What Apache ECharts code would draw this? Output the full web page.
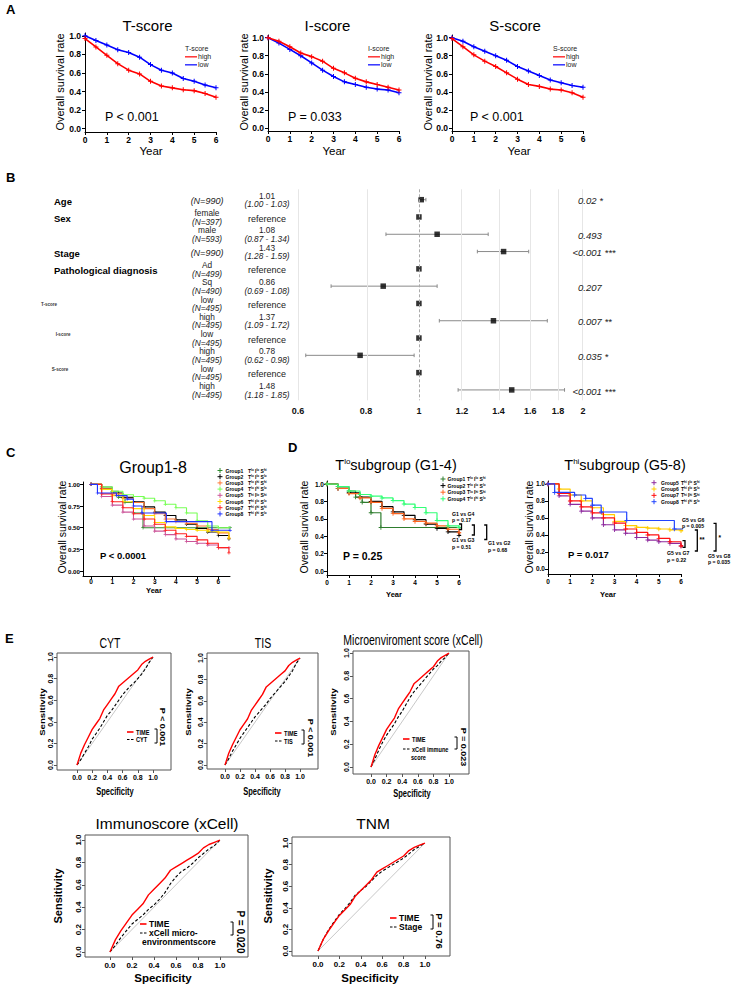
<!DOCTYPE html>
<html><head><meta charset="utf-8">
<script src="https://cdn.jsdelivr.net/npm/echarts@6.0.0/dist/echarts.min.js"></script>
<style>html,body{margin:0;padding:0;background:#fff;}#chart{width:736px;height:985px;}</style>
</head><body><div id="chart"></div>
<script>
// ================= DATA =================
// Panel A : Kaplan-Meier (years vs overall survival)
const kmYears    = [0,0.5,1,1.5,2,2.5,3,3.5,4,4.5,5,5.5,6];
const tScoreHigh = [0.97,0.88,0.79,0.70,0.63,0.59,0.51,0.46,0.44,0.42,0.41,0.38,0.34];
const tScoreLow  = [1.00,0.95,0.90,0.85,0.82,0.77,0.69,0.63,0.60,0.54,0.51,0.47,0.44];
const iScoreHigh = [1.00,0.96,0.90,0.83,0.79,0.74,0.66,0.61,0.55,0.51,0.48,0.45,0.42];
const iScoreLow  = [1.00,0.94,0.87,0.80,0.72,0.64,0.57,0.51,0.48,0.45,0.43,0.42,0.39];
const sScoreHigh = [0.99,0.90,0.81,0.74,0.68,0.61,0.54,0.48,0.46,0.43,0.42,0.39,0.34];
const sScoreLow  = [1.00,0.96,0.90,0.85,0.80,0.75,0.68,0.63,0.58,0.53,0.50,0.47,0.45];
const yearTicks  = [0,1,2,3,4,5,6];
const survTicksA = [0,0.2,0.4,0.6,0.8,1.0];

// Panel B : forest plot
const forestHR   = [1.01,1,1.08,1.43,1,0.86,1,1.37,1,0.78,1,1.48];
const forestLow  = [1.00,null,0.87,1.28,null,0.69,null,1.09,null,0.62,null,1.18];
const forestHigh = [1.03,null,1.34,1.59,null,1.08,null,1.72,null,0.98,null,1.85];
const forestVars = ['Age','Sex','','Stage','Pathological diagnosis','','','','','','',''];
const forestLevels = ['','female','male','','Ad','Sq','low','high','low','high','low','high'];
const forestN    = ['(N=990)','(N=397)','(N=593)','(N=990)','(N=499)','(N=490)','(N=495)','(N=495)','(N=495)','(N=495)','(N=495)','(N=495)'];
const forestEst  = ['1.01','reference','1.08','1.43','reference','0.86','reference','1.37','reference','0.78','reference','1.48'];
const forestCI   = ['(1.00 - 1.03)','','(0.87 - 1.34)','(1.28 - 1.59)','','(0.69 - 1.08)','','(1.09 - 1.72)','','(0.62 - 0.98)','','(1.18 - 1.85)'];
const forestP    = ['0.02 *','','0.493','<0.001 ***','','0.207','','0.007 **','','0.035 *','','<0.001 ***'];
const forestScoreLabels = ['T-score','I-score','S-score'];
const forestTicks = [0.6,0.8,1,1.2,1.4,1.6,1.8,2];

// Panels C & D : eight groups (step KM curves, [year, survival])
const group1 = [[0,1],[0.5,0.97],[1,0.92],[1.3,0.85],[1.6,0.79],[2,0.67],[2.45,0.5],[6.55,0.5]];
const group2 = [[0,1],[0.5,0.95],[1,0.9],[1.5,0.85],[2,0.8],[2.5,0.74],[3,0.68],[3.5,0.64],[4,0.59],[4.5,0.54],[5,0.49],[5.5,0.45],[6,0.41],[6.5,0.37]];
const group3 = [[0,1],[0.5,0.95],[1,0.89],[1.5,0.84],[2,0.79],[2.5,0.72],[3,0.66],[3.5,0.6],[4,0.57],[4.5,0.55],[5,0.52],[5.5,0.48],[6,0.44],[6.5,0.38]];
const group4 = [[0,1],[0.5,0.97],[1,0.92],[1.5,0.88],[2,0.86],[2.5,0.84],[3,0.81],[3.5,0.77],[4,0.73],[4.5,0.67],[5,0.58],[5.5,0.52],[6,0.5],[6.5,0.5]];
const group5 = [[0,1],[0.5,0.86],[1,0.76],[1.5,0.68],[2,0.6],[2.5,0.52],[3,0.46],[3.5,0.42],[4,0.37],[4.5,0.34],[5,0.32],[5.5,0.3],[6,0.27],[6.5,0.27]];
const group6 = [[0,1],[0.5,0.94],[1,0.87],[1.5,0.8],[2,0.72],[2.5,0.64],[3,0.56],[3.5,0.51],[4,0.49],[4.5,0.48],[5,0.47],[5.5,0.46],[6,0.45],[6.5,0.38]];
const group7 = [[0,1],[0.5,0.89],[1,0.8],[1.5,0.73],[2,0.66],[2.5,0.6],[3,0.54],[3.5,0.47],[4,0.43],[4.5,0.4],[5,0.36],[5.5,0.32],[6,0.27],[6.5,0.21]];
const group8 = [[0,1],[0.3,0.9],[1.2,0.87],[1.7,0.83],[2,0.75],[2.4,0.67],[3.55,0.57],[5.7,0.47],[6.55,0.47]];
const groupNames = ['Group1','Group2','Group3','Group4','Group5','Group6','Group7','Group8'];
const groupT = ['lo','lo','lo','lo','hi','hi','hi','hi'];
const groupI = ['lo','lo','hi','hi','lo','lo','hi','hi'];
const groupS = ['hi','lo','hi','lo','hi','lo','hi','lo'];
const survTicksC = [0,0.25,0.5,0.75,1];
const survTicksD = [0,0.2,0.4,0.6,0.8,1];

// Panel E : ROC curves
const rocX     = [0,0.05,0.1,0.15,0.2,0.25,0.3,0.35,0.4,0.45,0.5,0.55,0.6,0.65,0.7,0.75,0.8,0.85,0.9,0.95,1];
const rocTIME  = [0,0.11,0.19,0.26,0.33,0.38,0.43,0.51,0.56,0.61,0.66,0.73,0.76,0.79,0.82,0.85,0.88,0.93,0.96,0.98,1];
const rocCYT   = [0,0.05,0.11,0.17,0.24,0.29,0.34,0.40,0.46,0.50,0.55,0.60,0.65,0.69,0.73,0.76,0.80,0.84,0.89,0.95,1];
const rocTIS   = [0,0.06,0.13,0.19,0.25,0.30,0.35,0.40,0.45,0.49,0.53,0.57,0.62,0.66,0.70,0.74,0.78,0.83,0.88,0.95,1];
const rocImmune= [0,0.07,0.15,0.22,0.28,0.33,0.38,0.44,0.49,0.55,0.61,0.66,0.70,0.74,0.78,0.82,0.86,0.89,0.93,0.96,1];
const rocMicro = [0,0.06,0.13,0.19,0.25,0.29,0.33,0.38,0.42,0.47,0.53,0.61,0.67,0.72,0.75,0.79,0.84,0.88,0.92,0.95,1];
const rocStage = [0,0.11,0.20,0.27,0.34,0.39,0.45,0.52,0.56,0.60,0.65,0.70,0.74,0.77,0.80,0.83,0.86,0.90,0.94,0.97,1];
const rocDiag  = [0,1];
const rocTicks = [0,0.2,0.4,0.6,0.8,1];

// ================= BUILD =================
const FONT = '"Liberation Sans", Arial, Helvetica, sans-serif';
const f = (w, s) => w + ' ' + s + 'px ' + FONT;
const PLUS = 'path://M4,0H6V4H10V6H6V10H4V6H0V4H4Z';
const chart = echarts.init(document.getElementById('chart'), null, {renderer:'svg', width:736, height:985});
const grids=[], xAxes=[], yAxes=[], series=[], G=[];

function addGrid(box, xa, ya){ const i=grids.length; grids.push(Object.assign({show:false, containLabel:false}, box)); xa.gridIndex=i; ya.gridIndex=i; xAxes.push(xa); yAxes.push(ya); return i; }
function vAxis(min,max,ticks,fmt,fs,o){ o=o||{}; return {
  type:'value', min:min, max:max,
  axisLine:{show:o.line!==false,onZero:false,lineStyle:{color:'#000',width:1}},
  axisTick:{show:o.tick!==false,inside:false,length:o.tlen||3,customValues:ticks,lineStyle:{color:o.tcolor||'#000',width:1}},
  axisLabel:{show:true,customValues:ticks,formatter:fmt,color:'#000',fontWeight:'bold',fontSize:fs,fontFamily:FONT,margin:(o.margin==null?3:o.margin),rotate:o.rotate||0,showMinLabel:true,showMaxLabel:true},
  splitLine:{show:false}, splitArea:{show:false}
};}
function txt(x,y,text,font,o){ o=o||{}; const al=o.align||'left';
  G.push({type:'text', x:x, y:y, rotation:o.rot||0, scaleX:o.sx||1, scaleY:o.sy||1, silent:true, z:50,
    style:{text:text, font:font, fill:o.color||'#000', align:al, textAlign:al, verticalAlign:'middle', textVerticalAlign:'middle', rich:o.rich}});
}
function pl(points,color,w,dash){ G.push({type:'polyline', silent:true, z:50, shape:{points:points}, style:{stroke:color, lineWidth:w, fill:'none', lineDash:dash||null}}); }
function plus(x,y,color){ pl([[x-2.5,y],[x+2.5,y]],color,1); pl([[x,y-2.5],[x,y+2.5]],color,1); }
function bracket(x,y1,y2,w){ pl([[x-2.5,y1],[x,y1],[x,y2],[x-2.5,y2]],'#000',w||1.3); }
function kmLine(gi, data, color, o){ o=o||{};
  series.push({type:'line', xAxisIndex:gi, yAxisIndex:gi, data:data, step:o.step||false,
    symbol:PLUS, symbolSize:o.sym||5, showSymbol:true, showAllSymbol:true, clip:true,
    lineStyle:{color:color,width:o.w||1.5}, itemStyle:{color:color,borderWidth:0}, silent:true, z:o.z||2});
}
const yFmt1 = v => v.toFixed(1), yFmt2 = v => v.toFixed(2), xFmt = v => String(v);

// ---------- Panel A ----------
txt(6,9,'A',f('bold',13));
const panelA = [
  {left:85, top:33, height:99, high:tScoreHigh, low:tScoreLow, title:'T-score', tx:147.5, ylx:60, yearx:151, px:105, ptxt:'P < 0.001', lx:185},
  {left:268, top:35, height:96, high:iScoreHigh, low:iScoreLow, title:'I-score', tx:327.5, ylx:244, yearx:334, px:288, ptxt:'P = 0.033', lx:368},
  {left:452, top:35, height:96, high:sScoreHigh, low:sScoreLow, title:'S-score', tx:515, ylx:428, yearx:519, px:470, ptxt:'P < 0.001', lx:553}
];
panelA.forEach(p=>{
  const gi = addGrid({left:p.left, top:p.top, width:131, height:p.height},
    vAxis(0,6,yearTicks,xFmt,8.5,{margin:3}), vAxis(-0.035,1.03,survTicksA,yFmt1,8.5,{margin:4}));
  kmLine(gi, kmYears.map((t,i)=>[t,p.low[i]]), '#0000FF', {w:1.6});
  kmLine(gi, kmYears.map((t,i)=>[t,p.high[i]]), '#FF0000', {w:1.6, z:3});
  txt(p.tx,25.5,p.title,f('normal',15),{align:'center'});
  txt(p.ylx,82,'Overall survival rate',f('normal',11),{align:'center',rot:Math.PI/2});
  txt(p.yearx,150.5,'Year',f('normal',11.5),{align:'center'});
  txt(p.px,117,p.ptxt,f('normal',12.5));
  txt(p.lx,48,p.title,f('normal',7),{color:'#222'});
  pl([[p.lx,56.8],[p.lx+12,56.8]],'#FF3333',1.5); txt(p.lx+13,56.8,'high',f('normal',7),{color:'#222'});
  pl([[p.lx,64.8],[p.lx+12,64.8]],'#3333FF',1.5); txt(p.lx+13,64.8,'low',f('normal',7),{color:'#222'});
});

// ---------- Panel B ----------
txt(6,177,'B',f('bold',13));
const fRow = i => 199.7 + i*17.3;
const fgi = addGrid({left:298, top:189.3, width:285, height:211},
  {type:'value', min:Math.log(0.6), max:Math.log(2),
   axisLine:{show:false}, axisTick:{show:false}, splitLine:{show:false},
   axisLabel:{customValues:forestTicks.map(Math.log), formatter:v=>String(+Math.exp(v).toFixed(1)), fontWeight:'bold', fontSize:9, fontFamily:FONT, color:'#111', margin:6, showMinLabel:true, showMaxLabel:true}},
  {type:'value', min:-0.6, max:11.6, inverse:true, show:false});
series.push({type:'scatter', xAxisIndex:fgi, yAxisIndex:fgi, data:[], silent:true, z:1,
  markLine:{silent:true, symbol:'none', label:{show:false}, animation:false,
    data:forestTicks.map(t=>({xAxis:Math.log(t), lineStyle: t===1 ? {color:'#aaaaaa',type:[3,2],width:1} : {color:'#e6e6e6',type:'solid',width:1}}))}});
series.push({type:'custom', xAxisIndex:fgi, yAxisIndex:fgi, silent:true, z:2,
  data: forestHR.map((v,i)=>forestLow[i]==null?null:[Math.log(forestLow[i]),Math.log(forestHigh[i]),i]).filter(d=>d),
  renderItem:(params,api)=>{
    const a=api.coord([api.value(0),api.value(2)]), b=api.coord([api.value(1),api.value(2)]);
    const st={stroke:'#8a8a8a',lineWidth:1};
    return {type:'group',children:[
      {type:'line',shape:{x1:a[0],y1:a[1],x2:b[0],y2:b[1]},style:st},
      {type:'line',shape:{x1:a[0],y1:a[1]-1.8,x2:a[0],y2:a[1]+1.8},style:st},
      {type:'line',shape:{x1:b[0],y1:b[1]-1.8,x2:b[0],y2:b[1]+1.8},style:st}]};
  }});
series.push({type:'scatter', xAxisIndex:fgi, yAxisIndex:fgi, silent:true, z:3,
  data: forestHR.map((v,i)=>[Math.log(v),i]), symbol:'rect', symbolSize:5.5, itemStyle:{color:'#000'}});
forestVars.forEach((v,i)=>{ if(v) txt(54,fRow(i)+1.5,v,f('bold',9.5)); });
[[49,304.5],[63,334.5],[60,369]].forEach((p,k)=>txt(p[0],p[1],forestScoreLabels[k],f('bold',4.5),{align:'center',color:'#333'}));
const tfs = 8.3;
forestN.forEach((n,i)=>{
  if(forestLevels[i]){ txt(207,fRow(i)-4,forestLevels[i],f('normal',tfs),{align:'center',color:'#222'}); txt(207,fRow(i)+4.6,n,f('italic',tfs),{align:'center',color:'#222'}); }
  else txt(207,fRow(i)+1.5,n,f('italic',tfs+0.7),{align:'center',color:'#222'});
});
forestEst.forEach((e,i)=>{
  if(forestCI[i]){ txt(267,fRow(i)-4,e,f('normal',tfs),{align:'center',color:'#222'}); txt(267,fRow(i)+4.6,forestCI[i],f('italic',tfs),{align:'center',color:'#222'}); }
  else txt(267,fRow(i)+1.5,e,f('normal',tfs+0.7),{align:'center',color:'#222'});
});
forestP.forEach((p,i)=>{ if(p) txt(p[0]==='<'?572.5:578, fRow(i)+1, p, f('italic',9.5),{color:'#222'}); });

// ---------- Panel C ----------
txt(6,452,'C',f('bold',13));
const groups = [group1,group2,group3,group4,group5,group6,group7,group8];
const colC = ['#2E8B2E','#000000','#FF7733','#77FF55','#CC5599','#FFDD00','#FF2222','#2233FF'];
const supRich = fs => ({n:{font:f('bold',fs),fill:'#000'}, s:{font:f('bold',fs*0.6),fill:'#000',verticalAlign:'top'}});
const supText = k => '{n|T}{s|'+groupT[k]+'} {n|I}{s|'+groupI[k]+'} {n|S}{s|'+groupS[k]+'}';
const gc = addGrid({left:83, top:482, width:147, height:94},
  vAxis(-0.38,6.55,yearTicks,xFmt,6.5,{margin:2}), vAxis(-0.057,1.027,survTicksC,yFmt2,6.2,{margin:3}));
groups.forEach((g,k)=>kmLine(gc, g, colC[k], {step:'end', w:1.1, sym:3.5, z:2+k}));
txt(153,467,'Group1-8',f('normal',16),{align:'center'});
txt(62,527,'Overall survival rate',f('normal',10.5),{align:'center',rot:Math.PI/2});
txt(154,590,'Year',f('bold',7.5),{align:'center'});
txt(100,555,'P < 0.0001',f('bold',9.5));
groups.forEach((g,k)=>{ const y=470.5+k*6.2; plus(220,y,colC[k]); txt(225.5,y,groupNames[k],f('bold',5)); txt(248,y,supText(k),f('bold',5),{rich:supRich(5)}); });

// ---------- Panel D ----------
txt(288,447,'D',f('bold',13));
const colDL = ['#2E7D2E','#000000','#FF6620','#33FF77'];
const colDR = ['#8E2B9E','#FFCC00','#FF1111','#2244FF'];
const gdl = addGrid({left:327, top:481, width:132, height:94},
  vAxis(0,6,yearTicks,xFmt,6.5,{margin:4}), vAxis(-0.046,1.035,survTicksD,yFmt1,6.5,{margin:3}));
const gdr = addGrid({left:548, top:481, width:133, height:93},
  vAxis(0,6,yearTicks,xFmt,6.5,{margin:4}), vAxis(-0.06,1.035,survTicksD,yFmt1,6.5,{margin:3}));
[0,1,2,3].forEach(k=>kmLine(gdl, groups[k], colDL[k], {step:'end', w:1.2, sym:4.5, z:2+k}));
[4,5,6,7].forEach((k,j)=>kmLine(gdr, groups[k], colDR[j], {step:'end', w:1.2, sym:4.5, z:2+j}));
const dTitleRich = {n:{font:f('normal',14.5),fill:'#000'}, s:{font:f('normal',8),fill:'#000',verticalAlign:'top'}};
txt(396,465,'{n|T}{s|lo}{n|subgroup (G1-4)}',f('normal',14.5),{align:'center',rich:dTitleRich});
txt(625,465,'{n|T}{s|hi}{n|subgroup (G5-8)}',f('normal',14.5),{align:'center',rich:dTitleRich});
txt(304,527,'Overall survival rate',f('normal',10.5),{align:'center',rot:Math.PI/2});
txt(529,527,'Overall survival rate',f('normal',10.5),{align:'center',rot:Math.PI/2});
txt(394,594,'Year',f('bold',7.5),{align:'center'});
txt(608,594,'Year',f('bold',7.5),{align:'center'});
txt(343,556,'P = 0.25',f('bold',10.5));
txt(568,554,'P = 0.017',f('bold',9.5));
[0,1,2,3].forEach((k,j)=>{ const y=479+j*6.6; plus(443,y,colDL[j]); txt(447.5,y,groupNames[k],f('bold',5)); txt(467,y,supText(k),f('bold',5),{rich:supRich(5)}); });
[4,5,6,7].forEach((k,j)=>{ const y=482.7+j*6.33; plus(654,y,colDR[j]); txt(661,y,groupNames[k],f('bold',5)); txt(681,y,supText(k),f('bold',5),{rich:supRich(5)}); });
// D annotations
const an = f('bold',5.2);
txt(452,513.5,'G1 vs G4',an); txt(452,520,'p = 0.17',an);
txt(452,539.5,'G1 vs G3',an); txt(452,546.5,'p = 0.51',an);
txt(488,543,'G1 vs G2',an); txt(488,549.5,'p = 0.68',an);
bracket(461.5,524,529.5); bracket(474.3,525,535); bracket(486.7,525,539.5);
txt(682,519.5,'G5 vs G6',an); txt(682,526,'p = 0.005',an);
txt(667,553,'G5 vs G7',an); txt(667,559.5,'p = 0.22',an);
txt(708,556,'G5 vs G8',an); txt(708,562,'p = 0.035',an);
bracket(685,540.7,547.3); bracket(697.3,530,551); bracket(716,523.3,551);
txt(699.5,539.5,'**',f('bold',6.5)); txt(718.5,537.5,'*',f('bold',6.5));

// ---------- Panel E ----------
txt(5,638,'E',f('bold',13));
const panelE = [
  {box:{left:57,top:653,width:114,height:117}, x:[-0.263,1.237], y:[-0.046,1.037], cmp:rocCYT, fs:7, sx:0.75,
   title:'CYT', tx:110, ty:643, tfs:14, slx:42, sly:712, spx:115, spy:792, afs:9.5,
   lg:{x:127,y1:732,y2:739.5}, leg:['TIME','CYT'], br:[157,729,743], p:'P < 0.001', px:162.5, py:727, pfs:9},
  {box:{left:207,top:653,width:111,height:116}, x:[-0.24,1.24], y:[-0.037,1.047], cmp:rocTIS, fs:7, sx:0.75,
   title:'TIS', tx:263, ty:643, tfs:14, slx:188, sly:712, spx:262, spy:792, afs:9.5,
   lg:{x:275,y1:733,y2:741}, leg:['TIME','TIS'], br:[304,730,744], p:'P < 0.001', px:310, py:738, pfs:9},
  {box:{left:353,top:651,width:116,height:123}, x:[-0.231,1.256], y:[-0.061,1.018], cmp:rocImmune, fs:7, sx:0.75,
   title:'Microenviroment score (xCell)', tx:413, ty:640.5, tfs:14, slx:333, sly:712, spx:412, spy:794, afs:9.5,
   lg:{x:403,y1:739,y2:749}, leg:['TIME','xCell immune','score'], l3x:411, l3y:757, br:[457,737,749], p:'P = 0.023', px:463, py:747, pfs:9},
  {box:{left:85,top:835,width:163,height:122}, x:[-0.227,1.255], y:[-0.045,1.045], cmp:rocMicro, fs:8, sx:1,
   title:'Immunoscore (xCell)', tx:167, ty:823, tfs:15.5, slx:58, sly:896, spx:163, spy:978, afs:11,
   lg:{x:140,y1:924,y2:933}, leg:['TIME','xCell micro-','environmentscore'], l3x:142, l3y:942, br:[233,922,935], p:'P = 0.020', px:240.5, py:932, pfs:10},
  {box:{left:292,top:837,width:158,height:119}, x:[-0.243,1.234], y:[-0.046,1.056], cmp:rocStage, fs:8, sx:1,
   title:'TNM', tx:373, ty:823, tfs:15.5, slx:268, sly:896, spx:370, spy:978, afs:11,
   lg:{x:390,y1:918,y2:927}, leg:['TIME','Stage'], br:[433,915,929], p:'P = 0.76', px:439.5, py:931, pfs:9.5}
];
panelE.forEach(p=>{
  const gi = addGrid(Object.assign({show:true, borderColor:'#555', borderWidth:1, backgroundColor:'transparent'}, p.box),
    vAxis(p.x[0],p.x[1],rocTicks,yFmt1,p.fs,{line:false, tcolor:'#555', margin:4}),
    vAxis(p.y[0],p.y[1],rocTicks,yFmt1,p.fs,{line:false, tcolor:'#555', margin:3, rotate:90}));
  series.push({type:'line', xAxisIndex:gi, yAxisIndex:gi, data:rocDiag.map(v=>[v,v]), symbol:'none', silent:true, z:1, lineStyle:{color:'#c8c8c8',width:1}});
  series.push({type:'line', xAxisIndex:gi, yAxisIndex:gi, data:rocX.map((x,i)=>[x,p.cmp[i]]), symbol:'none', silent:true, z:2, lineStyle:{color:'#000',width:1.1,type:[3,2]}});
  series.push({type:'line', xAxisIndex:gi, yAxisIndex:gi, data:rocX.map((x,i)=>[x,rocTIME[i]]), symbol:'none', silent:true, z:3, lineStyle:{color:'#FF0000',width:1.4}});
  txt(p.tx,p.ty,p.title,f('normal',p.tfs),{align:'center',sx:p.sx});
  txt(p.slx,p.sly,'Sensitivity',f('bold',p.afs),{align:'center',rot:Math.PI/2,sy:p.sx});
  txt(p.spx,p.spy,'Specificity',f('bold',p.afs+0.5),{align:'center',sx:p.sx});
  const lfs = p.fs+0.5;
  pl([[p.lg.x,p.lg.y1],[p.lg.x+6.5,p.lg.y1]],'#FF3333',2);
  pl([[p.lg.x,p.lg.y2],[p.lg.x+6.5,p.lg.y2]],'#000',1,[2.5,1.5]);
  txt(p.lg.x+9,p.lg.y1,p.leg[0],f('bold',lfs),{sx:p.sx});
  txt(p.lg.x+9,p.lg.y2,p.leg[1],f('bold',lfs),{sx:p.sx});
  if(p.leg[2]) txt(p.l3x,p.l3y,p.leg[2],f('bold',lfs),{sx:p.sx});
  bracket(p.br[0],p.br[1],p.br[2],1);
  txt(p.px,p.py,p.p,f('bold',p.pfs),{align:'center',rot:-Math.PI/2,sy:p.sx});
});

chart.setOption({
  backgroundColor:'#ffffff', animation:false, textStyle:{fontFamily:FONT},
  grid:grids, xAxis:xAxes, yAxis:yAxes, series:series, graphic:{elements:G}
});
</script></body></html>
